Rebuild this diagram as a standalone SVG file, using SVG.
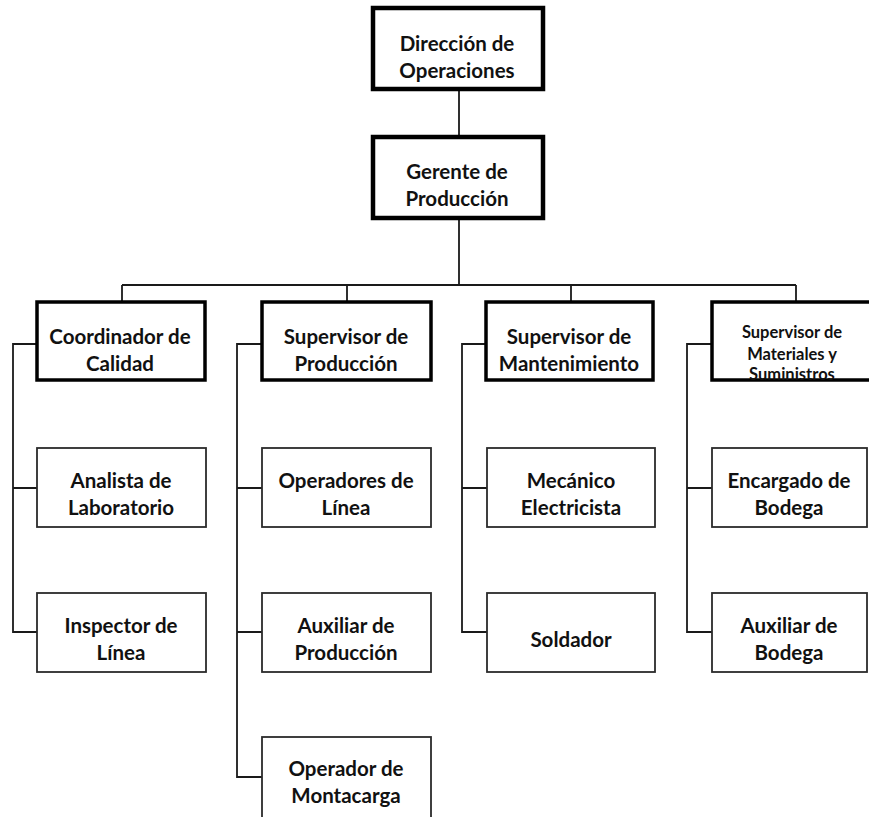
<svg xmlns="http://www.w3.org/2000/svg" width="869" height="817" viewBox="0 0 869 817">
<style>
  .b0 { fill: #ffffff; stroke: #000000; stroke-width: 4.5; }
  .b1 { fill: #ffffff; stroke: #000000; stroke-width: 3.5; }
  .b2 { fill: #ffffff; stroke: #2b2b2b; stroke-width: 1.8; }
  .t { font-family: Lato, "Liberation Sans", sans-serif; font-weight: bold; font-size: 20.5px; fill: #111111; text-anchor: middle; }
  .ts { font-family: Lato, "Liberation Sans", sans-serif; font-weight: bold; font-size: 16.5px; fill: #111111; text-anchor: middle; }
  .c { fill: none; stroke: #1a1a1a; stroke-width: 1.8; }
</style>
<rect width="869" height="817" fill="#ffffff"/>
<g id="connectors">
  <path class="c" d="M459 89 V137 M459 218 V285 M122 285 H796 M122 285 V302 M347 285 V302 M571 285 V302 M796 285 V302"/>
  <path class="c" d="M37 344 H13 V632 H37 M13 488 H37"/>
  <path class="c" d="M262 344 H237 V777 H262 M237 488 H262 M237 632 H262"/>
  <path class="c" d="M486 344 H462 V632 H487 M462 488 H487"/>
  <path class="c" d="M712 344 H687 V632 H712 M687 488 H712"/>
</g>
<g id="direccion">
  <rect class="b0" x="373" y="8" width="170" height="81"/>
  <text class="t" x="457" y="51">Dirección de</text>
  <text class="t" x="457" y="78">Operaciones</text>
</g>
<g id="gerente">
  <rect class="b0" x="373" y="137" width="170" height="81"/>
  <text class="t" x="457" y="179">Gerente de</text>
  <text class="t" x="457" y="206">Producción</text>
</g>
<g id="coordinador-calidad">
  <rect class="b1" x="37" y="302" width="168" height="78"/>
  <text class="t" x="120" y="344">Coordinador de</text>
  <text class="t" x="120" y="371">Calidad</text>
</g>
<g id="supervisor-produccion">
  <rect class="b1" x="262" y="302" width="169" height="78"/>
  <text class="t" x="346" y="344">Supervisor de</text>
  <text class="t" x="346" y="371">Producción</text>
</g>
<g id="supervisor-mantenimiento">
  <rect class="b1" x="486" y="302" width="167" height="78"/>
  <text class="t" x="569" y="344">Supervisor de</text>
  <text class="t" x="569" y="371">Mantenimiento</text>
</g>
<g id="supervisor-materiales">
  <rect class="b1" x="712" y="302" width="162" height="78"/>
  <text class="ts" x="792" y="338">Supervisor de</text>
  <text class="ts" x="792" y="360">Materiales y</text>
  <text class="ts" x="792" y="380">Suministros</text>
</g>
<g id="analista-laboratorio">
  <rect class="b2" x="37" y="448" width="169" height="79"/>
  <text class="t" x="121" y="488">Analista de</text>
  <text class="t" x="121" y="515">Laboratorio</text>
</g>
<g id="inspector-linea">
  <rect class="b2" x="37" y="593" width="169" height="79"/>
  <text class="t" x="121" y="633">Inspector de</text>
  <text class="t" x="121" y="660">Línea</text>
</g>
<g id="operadores-linea">
  <rect class="b2" x="262" y="448" width="169" height="79"/>
  <text class="t" x="346" y="488">Operadores de</text>
  <text class="t" x="346" y="515">Línea</text>
</g>
<g id="auxiliar-produccion">
  <rect class="b2" x="262" y="593" width="169" height="79"/>
  <text class="t" x="346" y="633">Auxiliar de</text>
  <text class="t" x="346" y="660">Producción</text>
</g>
<g id="operador-montacarga">
  <rect class="b2" x="262" y="737" width="169" height="84"/>
  <text class="t" x="346" y="776">Operador de</text>
  <text class="t" x="346" y="803">Montacarga</text>
</g>
<g id="mecanico-electricista">
  <rect class="b2" x="487" y="448" width="168" height="79"/>
  <text class="t" x="571" y="488">Mecánico</text>
  <text class="t" x="571" y="515">Electricista</text>
</g>
<g id="soldador">
  <rect class="b2" x="487" y="593" width="168" height="79"/>
  <text class="t" x="571" y="647">Soldador</text>
</g>
<g id="encargado-bodega">
  <rect class="b2" x="712" y="448" width="155" height="79"/>
  <text class="t" x="789" y="488">Encargado de</text>
  <text class="t" x="789" y="515">Bodega</text>
</g>
<g id="auxiliar-bodega">
  <rect class="b2" x="712" y="593" width="155" height="79"/>
  <text class="t" x="789" y="633">Auxiliar de</text>
  <text class="t" x="789" y="660">Bodega</text>
</g>
</svg>
